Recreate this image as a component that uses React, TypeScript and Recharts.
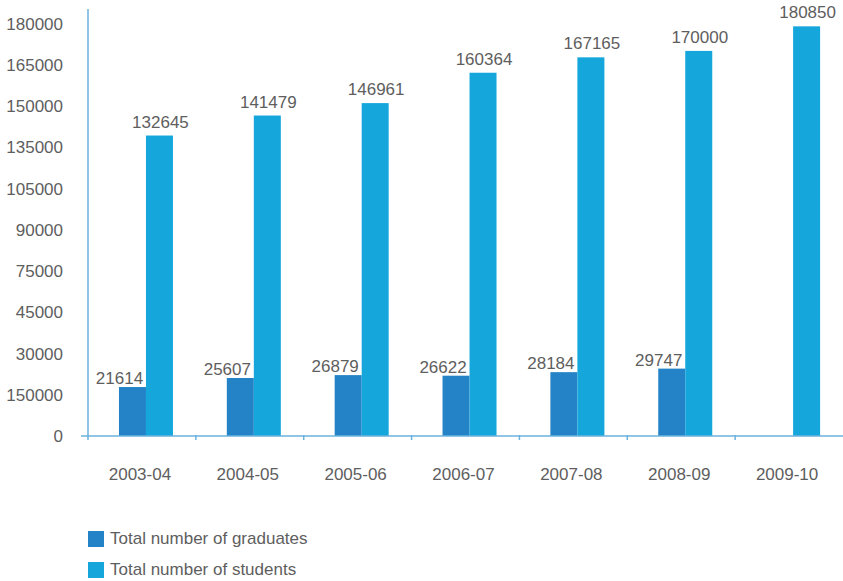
import React from 'react';
import { BarChart, Bar, XAxis, YAxis, LabelList, Legend } from 'recharts';

const years = ['2003-04', '2004-05', '2005-06', '2006-07', '2007-08', '2008-09', '2009-10'];
const graduates = [21614, 25607, 26879, 26622, 28184, 29747, null];
const students = [132645, 141479, 146961, 160364, 167165, 170000, 180850];

// the original axis labels are not in order, kept as they appear
const yTickLabels = ['0', '150000', '30000', '45000', '75000', '90000', '105000', '135000', '150000', '165000', '180000'];
const yTickStep = 18205;
const yMax = 188500;

const data = years.map((year, i) => ({
  year,
  graduates: graduates[i],
  students: students[i],
}));

const yTicks = yTickLabels.map((_, i) => i * yTickStep);

const W = 843;
const H = 581;
const AXIS_W = 88;
const BAR_SHIFT = 4; // bars sit a bit right of the band centre in the original
const bandW = (W - AXIS_W) / years.length;
const font = '"Liberation Sans", Arial, Helvetica, sans-serif';
const textColor = '#5e5e5e';
const axisColor = '#6db2de';
const gradColor = '#2383c6';
const studColor = '#15a7dc';

const YTick = (props: any) => {
  const { x, y, index } = props;
  return (
    <g>
      {index === 0 && <line x1={AXIS_W - 7} x2={AXIS_W} y1={y} y2={y} stroke={axisColor} strokeWidth={1.5} />}
      <text x={x} y={y} dy={6} textAnchor="end" fill={textColor} fontSize={17} fontFamily={font}>
        {yTickLabels[index]}
      </text>
    </g>
  );
};

const XTick = (props: any) => {
  const { x, y, payload } = props;
  const left = x - bandW / 2;
  return (
    <g>
      <line x1={left} x2={left} y1={y - 1} y2={y + 4} stroke={axisColor} strokeWidth={1.5} />
      <text x={x - 2} y={y + 44} textAnchor="middle" fill={textColor} fontSize={17} fontFamily={font}>
        {payload.value}
      </text>
    </g>
  );
};

const ShiftedBar = (props: any) => {
  const { x, y, width, height, fill } = props;
  if (!height || height <= 0) return null;
  return <rect x={x + BAR_SHIFT} y={y} width={width} height={height} fill={fill} />;
};

const makeLabel = (dx: number, gap: number) => (props: any) => {
  const { x, y, width, value } = props;
  if (value == null) return null;
  return (
    <text x={x + width / 2 + BAR_SHIFT + dx} y={y - gap} textAnchor="middle" fill={textColor} fontSize={17} fontFamily={font}>
      {value}
    </text>
  );
};

const LegendBox = () => (
  <div style={{ fontFamily: font, fontSize: 17, color: textColor }}>
    {[
      { name: 'Total number of graduates', color: gradColor },
      { name: 'Total number of students', color: studColor },
    ].map((item) => (
      <div key={item.name} style={{ display: 'flex', alignItems: 'center', height: 31 }}>
        <span style={{ width: 16, height: 16, background: item.color, display: 'inline-block', marginRight: 6 }} />
        <span>{item.name}</span>
      </div>
    ))}
  </div>
);

export default function App() {
  return (
    <div style={{ position: 'absolute', left: 0, top: 0, width: W, height: H, background: '#fff' }}>
      <BarChart
        width={W}
        height={H}
        data={data}
        margin={{ top: 9, right: 0, left: 0, bottom: 23 }}
        barCategoryGap="25%"
        barGap={0}
      >
        <XAxis
          dataKey="year"
          height={60}
          axisLine={{ stroke: axisColor, strokeWidth: 1.5 }}
          tickLine={false}
          tickSize={0}
          tickMargin={0}
          tick={<XTick />}
          interval={0}
        />
        <YAxis
          width={AXIS_W}
          domain={[0, yMax]}
          ticks={yTicks}
          axisLine={{ stroke: axisColor, strokeWidth: 1.5 }}
          tickLine={false}
          tickSize={23}
          tickMargin={2}
          tick={<YTick />}
          interval={0}
        />
        <Legend
          layout="vertical"
          align="center"
          verticalAlign="bottom"
          content={<LegendBox />}
          wrapperStyle={{ left: 88, top: 523, width: 300, bottom: 'auto' }}
        />
        <Bar dataKey="graduates" name="Total number of graduates" fill={gradColor} shape={<ShiftedBar />} isAnimationActive={false}>
          <LabelList dataKey="graduates" content={makeLabel(-13, 3)} />
        </Bar>
        <Bar dataKey="students" name="Total number of students" fill={studColor} shape={<ShiftedBar />} isAnimationActive={false}>
          <LabelList dataKey="students" content={makeLabel(1, 8)} />
        </Bar>
      </BarChart>
    </div>
  );
}
